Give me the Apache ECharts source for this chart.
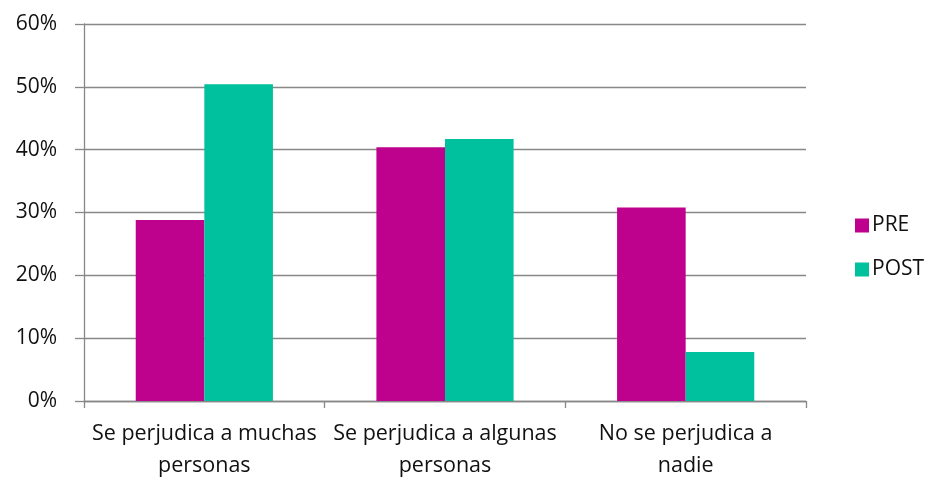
<!DOCTYPE html>
<html><head><meta charset="utf-8">
<script src="https://cdn.jsdelivr.net/npm/echarts@6/dist/echarts.min.js"></script>
<style>html,body{margin:0;padding:0;background:#fff}#c{width:929px;height:479px}</style>
</head><body><div id="c"></div>
<script>
const categories = ['Se perjudica a muchas\npersonas', 'Se perjudica a algunas\npersonas', 'No se perjudica a\nnadie'];
const preValues = [28.8, 40.4, 30.8];
const postValues = [50.4, 41.7, 7.8];
const seriesNames = ['PRE', 'POST'];
const FONT = 'Open Sans';
const chart = echarts.init(document.getElementById('c'));
chart.setOption({
  animation: false,
  textStyle: {fontFamily: FONT},
  grid: {left: 84, right: 123, top: 24, bottom: 78, containLabel: false, outerBoundsMode: 'none'},
  legend: {
    orient: 'vertical', left: 850, top: 210, itemWidth: 14, itemHeight: 14, itemGap: 23,
    icon: 'rect',
    textStyle: {fontFamily: FONT, fontSize: 21, color: '#111', padding: [0,0,0,-2]},
    data: seriesNames
  },
  xAxis: {
    type: 'category', data: categories,
    axisLine: {lineStyle: {color: '#888', width: 1.3}},
    axisTick: {show: true, length: 7, lineStyle: {color: '#888', width: 1.3}},
    axisLabel: {interval: 0, fontFamily: FONT, fontSize: 21.5, color: '#111', lineHeight: 32, margin: 17}
  },
  yAxis: {
    type: 'value', min: 0, max: 60, interval: 10,
    axisLine: {show: true, lineStyle: {color: '#888', width: 1.3}},
    axisTick: {show: true, length: 9, lineStyle: {color: '#888', width: 1.3}},
    splitLine: {lineStyle: {color: '#888', width: 1.3}},
    axisLabel: {formatter: '{value}%', fontFamily: FONT, fontSize: 21, color: '#111', margin: 27}
  },
  series: [
    {name: seriesNames[0], type: 'bar', data: preValues, barGap: '0%', barCategoryGap: '43%', itemStyle: {color: '#BF028E'}},
    {name: seriesNames[1], type: 'bar', data: postValues, barGap: '0%', barCategoryGap: '43%', itemStyle: {color: '#00C19D'}}
  ]
});
</script></body></html>
